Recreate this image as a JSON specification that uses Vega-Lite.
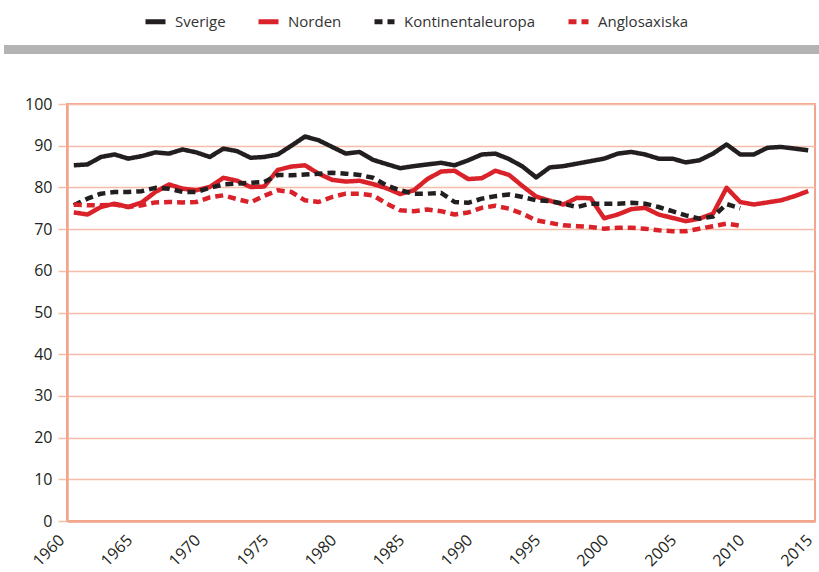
{
  "$schema": "https://vega.github.io/schema/vega-lite/v6.json",
  "width": 748,
  "height": 417,
  "autosize": {"type": "none"},
  "padding": {"left": 67, "top": 104, "right": 4, "bottom": 51},
  "background": "white",
  "config": {"font": "Open Sans", "view": {"stroke": "#F0A58C", "strokeWidth": 2}},
  "data": {"values": [
    {"year": 1960, "Sverige": 85.3, "Norden": 74.0, "Kontinentaleuropa": 75.7, "Anglosaxiska": 75.9},
    {"year": 1961, "Sverige": 85.5, "Norden": 73.5, "Kontinentaleuropa": 77.3, "Anglosaxiska": 75.7},
    {"year": 1962, "Sverige": 87.3, "Norden": 75.3, "Kontinentaleuropa": 78.5, "Anglosaxiska": 75.7},
    {"year": 1963, "Sverige": 87.9, "Norden": 76.1, "Kontinentaleuropa": 78.9, "Anglosaxiska": 75.9},
    {"year": 1964, "Sverige": 86.9, "Norden": 75.3, "Kontinentaleuropa": 78.9, "Anglosaxiska": 75.3},
    {"year": 1965, "Sverige": 87.5, "Norden": 76.4, "Kontinentaleuropa": 79.1, "Anglosaxiska": 75.7},
    {"year": 1966, "Sverige": 88.4, "Norden": 78.9, "Kontinentaleuropa": 79.9, "Anglosaxiska": 76.4},
    {"year": 1967, "Sverige": 88.1, "Norden": 80.7, "Kontinentaleuropa": 79.7, "Anglosaxiska": 76.5},
    {"year": 1968, "Sverige": 89.1, "Norden": 79.7, "Kontinentaleuropa": 78.9, "Anglosaxiska": 76.4},
    {"year": 1969, "Sverige": 88.4, "Norden": 79.3, "Kontinentaleuropa": 78.9, "Anglosaxiska": 76.5},
    {"year": 1970, "Sverige": 87.3, "Norden": 80.1, "Kontinentaleuropa": 79.9, "Anglosaxiska": 77.6},
    {"year": 1971, "Sverige": 89.3, "Norden": 82.3, "Kontinentaleuropa": 80.7, "Anglosaxiska": 78.1},
    {"year": 1972, "Sverige": 88.7, "Norden": 81.6, "Kontinentaleuropa": 80.9, "Anglosaxiska": 77.2},
    {"year": 1973, "Sverige": 87.1, "Norden": 80.1, "Kontinentaleuropa": 81.1, "Anglosaxiska": 76.4},
    {"year": 1974, "Sverige": 87.3, "Norden": 80.2, "Kontinentaleuropa": 81.3, "Anglosaxiska": 78.0},
    {"year": 1975, "Sverige": 87.9, "Norden": 84.2, "Kontinentaleuropa": 83.0, "Anglosaxiska": 79.3},
    {"year": 1976, "Sverige": 90.0, "Norden": 85.0, "Kontinentaleuropa": 82.9, "Anglosaxiska": 78.9},
    {"year": 1977, "Sverige": 92.2, "Norden": 85.3, "Kontinentaleuropa": 83.1, "Anglosaxiska": 76.9},
    {"year": 1978, "Sverige": 91.3, "Norden": 83.3, "Kontinentaleuropa": 83.3, "Anglosaxiska": 76.5},
    {"year": 1979, "Sverige": 89.7, "Norden": 81.8, "Kontinentaleuropa": 83.5, "Anglosaxiska": 77.7},
    {"year": 1980, "Sverige": 88.1, "Norden": 81.4, "Kontinentaleuropa": 83.3, "Anglosaxiska": 78.5},
    {"year": 1981, "Sverige": 88.5, "Norden": 81.6, "Kontinentaleuropa": 83.0, "Anglosaxiska": 78.5},
    {"year": 1982, "Sverige": 86.6, "Norden": 80.8, "Kontinentaleuropa": 82.3, "Anglosaxiska": 78.1},
    {"year": 1983, "Sverige": 85.6, "Norden": 79.8, "Kontinentaleuropa": 80.5, "Anglosaxiska": 76.1},
    {"year": 1984, "Sverige": 84.6, "Norden": 78.4, "Kontinentaleuropa": 79.3, "Anglosaxiska": 74.5},
    {"year": 1985, "Sverige": 85.1, "Norden": 79.3, "Kontinentaleuropa": 78.5, "Anglosaxiska": 74.3},
    {"year": 1986, "Sverige": 85.5, "Norden": 82.0, "Kontinentaleuropa": 78.5, "Anglosaxiska": 74.7},
    {"year": 1987, "Sverige": 85.9, "Norden": 83.8, "Kontinentaleuropa": 78.7, "Anglosaxiska": 74.3},
    {"year": 1988, "Sverige": 85.3, "Norden": 84.0, "Kontinentaleuropa": 76.5, "Anglosaxiska": 73.5},
    {"year": 1989, "Sverige": 86.5, "Norden": 82.0, "Kontinentaleuropa": 76.3, "Anglosaxiska": 74.0},
    {"year": 1990, "Sverige": 87.9, "Norden": 82.2, "Kontinentaleuropa": 77.3, "Anglosaxiska": 75.1},
    {"year": 1991, "Sverige": 88.1, "Norden": 84.0, "Kontinentaleuropa": 77.9, "Anglosaxiska": 75.6},
    {"year": 1992, "Sverige": 86.8, "Norden": 83.0, "Kontinentaleuropa": 78.3, "Anglosaxiska": 74.9},
    {"year": 1993, "Sverige": 85.0, "Norden": 80.3, "Kontinentaleuropa": 77.7, "Anglosaxiska": 73.7},
    {"year": 1994, "Sverige": 82.4, "Norden": 77.8, "Kontinentaleuropa": 76.9, "Anglosaxiska": 72.1},
    {"year": 1995, "Sverige": 84.8, "Norden": 76.8, "Kontinentaleuropa": 76.7, "Anglosaxiska": 71.5},
    {"year": 1996, "Sverige": 85.1, "Norden": 75.9, "Kontinentaleuropa": 76.1, "Anglosaxiska": 70.9},
    {"year": 1997, "Sverige": 85.7, "Norden": 77.5, "Kontinentaleuropa": 75.3, "Anglosaxiska": 70.7},
    {"year": 1998, "Sverige": 86.3, "Norden": 77.4, "Kontinentaleuropa": 76.1, "Anglosaxiska": 70.5},
    {"year": 1999, "Sverige": 86.9, "Norden": 72.6, "Kontinentaleuropa": 76.1, "Anglosaxiska": 70.1},
    {"year": 2000, "Sverige": 88.1, "Norden": 73.5, "Kontinentaleuropa": 76.1, "Anglosaxiska": 70.3},
    {"year": 2001, "Sverige": 88.5, "Norden": 74.8, "Kontinentaleuropa": 76.3, "Anglosaxiska": 70.3},
    {"year": 2002, "Sverige": 87.9, "Norden": 75.1, "Kontinentaleuropa": 76.1, "Anglosaxiska": 70.1},
    {"year": 2003, "Sverige": 86.9, "Norden": 73.5, "Kontinentaleuropa": 75.3, "Anglosaxiska": 69.7},
    {"year": 2004, "Sverige": 86.9, "Norden": 72.7, "Kontinentaleuropa": 74.3, "Anglosaxiska": 69.5},
    {"year": 2005, "Sverige": 86.0, "Norden": 71.9, "Kontinentaleuropa": 73.3, "Anglosaxiska": 69.5},
    {"year": 2006, "Sverige": 86.5, "Norden": 72.5, "Kontinentaleuropa": 72.5, "Anglosaxiska": 70.1},
    {"year": 2007, "Sverige": 88.1, "Norden": 73.7, "Kontinentaleuropa": 73.0, "Anglosaxiska": 70.7},
    {"year": 2008, "Sverige": 90.3, "Norden": 79.9, "Kontinentaleuropa": 76.0, "Anglosaxiska": 71.3},
    {"year": 2009, "Sverige": 87.9, "Norden": 76.5, "Kontinentaleuropa": 75.0, "Anglosaxiska": 70.8},
    {"year": 2010, "Sverige": 87.9, "Norden": 75.9},
    {"year": 2011, "Sverige": 89.5, "Norden": 76.4},
    {"year": 2012, "Sverige": 89.7, "Norden": 76.9},
    {"year": 2013, "Sverige": 89.3, "Norden": 77.9},
    {"year": 2014, "Sverige": 88.9, "Norden": 79.1}
  ]},
  "layer": [
    {
      "mark": {"type": "rule", "color": "#B3B3B3", "strokeWidth": 8},
      "encoding": {
        "x": {"datum": 1955.4, "type": "quantitative"},
        "x2": {"datum": 2015.3},
        "y": {"datum": 113, "type": "quantitative"}
      }
    },
    {
      "transform": [{"fold": ["Sverige", "Norden", "Kontinentaleuropa", "Anglosaxiska"], "as": ["serie", "value"]}],
      "mark": {"type": "line", "strokeWidth": 4.5, "strokeCap": "butt", "strokeJoin": "round", "xOffset": 6.8},
      "encoding": {
        "x": {
          "field": "year", "type": "quantitative",
          "scale": {"domain": [1960, 2015], "nice": false, "zero": false},
          "axis": {
            "title": null, "values": [1960, 1965, 1970, 1975, 1980, 1985, 1990, 1995, 2000, 2005, 2010, 2015],
            "format": "d", "grid": false, "ticks": false, "domainColor": "#F0A58C", "domainWidth": 2.5,
            "labelAngle": -45, "labelAlign": "right", "labelBaseline": "bottom", "labelPadding": 22,
            "labelFontSize": 16, "labelColor": "#231f20", "labelFlush": false, "labelOverlap": false
          }
        },
        "y": {
          "field": "value", "type": "quantitative",
          "scale": {"domain": [0, 100], "nice": false},
          "axis": {
            "title": null, "values": [0, 10, 20, 30, 40, 50, 60, 70, 80, 90, 100],
            "grid": true, "gridColor": "#F5BCA8", "gridWidth": 1.5,
            "tickColor": "#F5BCA8", "tickSize": 9, "tickWidth": 1.5,
            "domainColor": "#F0A58C", "domainWidth": 2.5,
            "labelFontSize": 16, "labelColor": "#231f20", "labelPadding": 6
          }
        },
        "color": {
          "field": "serie", "type": "nominal",
          "scale": {"domain": ["Sverige", "Norden", "Kontinentaleuropa", "Anglosaxiska"], "range": ["#231f20", "#d9222a", "#231f20", "#d9222a"]},
          "legend": {
            "title": null, "orient": "none", "legendX": 76, "legendY": -95, "direction": "horizontal",
            "symbolType": "stroke", "symbolSize": 400, "symbolStrokeWidth": 5,
            "labelFontSize": 15, "labelColor": "#333333", "labelOffset": 7, "columnPadding": 22
          }
        },
        "strokeDash": {
          "field": "serie", "type": "nominal",
          "scale": {"domain": ["Sverige", "Norden", "Kontinentaleuropa", "Anglosaxiska"], "range": [[1, 0], [1, 0], [8, 5], [8, 5]]},
          "legend": {
            "title": null, "orient": "none", "legendX": 76, "legendY": -95, "direction": "horizontal",
            "symbolType": "stroke", "symbolSize": 400, "symbolStrokeWidth": 5,
            "labelFontSize": 15, "labelColor": "#333333", "labelOffset": 7, "columnPadding": 22
          }
        }
      }
    }
  ]
}
